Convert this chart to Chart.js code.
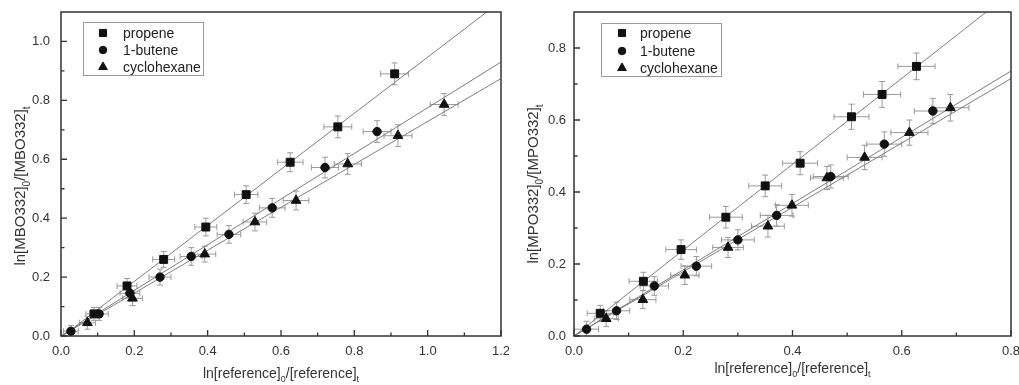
<!DOCTYPE html>
<html>
<head>
<meta charset="utf-8">
<script src="https://cdn.jsdelivr.net/npm/chart.js@4.4.0/dist/chart.umd.min.js"></script>
<style>
    body { margin: 0; background: #fff; width: 1019px; height: 385px; overflow: hidden; position: relative; }
    canvas { position: absolute; top: 0; }
</style>
</head>
<body>
<canvas id="mboChart" width="509" height="385" style="left:0"></canvas>
<canvas id="mpoChart" width="510" height="385" style="left:509px"></canvas>
<script>
// ============================================
// Data (two relative-rate plots)
// ============================================

const seriesLabels = ['propene', '1-butene', 'cyclohexane'];

// Left panel: ln[MBO332]0/[MBO332]t vs ln[reference]0/[reference]t
const mboXTicks = [0, 0.2, 0.4, 0.6, 0.8, 1.0, 1.2];
const mboYTicks = [0, 0.2, 0.4, 0.6, 0.8, 1.0];

const mboPropeneX = [0.09, 0.18, 0.28, 0.395, 0.505, 0.625, 0.755, 0.91];
const mboPropeneY = [0.075, 0.17, 0.26, 0.37, 0.48, 0.59, 0.71, 0.89];
const mboPropeneXErr = [0.022, 0.027, 0.03, 0.03, 0.032, 0.035, 0.038, 0.038];
const mboPropeneYErr = [0.022, 0.025, 0.027, 0.03, 0.03, 0.032, 0.037, 0.037];

const mboButeneX = [0.027, 0.104, 0.188, 0.27, 0.355, 0.458, 0.576, 0.72, 0.862];
const mboButeneY = [0.016, 0.075, 0.145, 0.2, 0.27, 0.345, 0.435, 0.572, 0.694];
const mboButeneXErr = [0.02, 0.025, 0.027, 0.03, 0.03, 0.032, 0.035, 0.037, 0.038];
const mboButeneYErr = [0.02, 0.022, 0.025, 0.027, 0.03, 0.03, 0.032, 0.035, 0.037];

const mboCycloX = [0.072, 0.195, 0.392, 0.529, 0.641, 0.782, 0.919, 1.045];
const mboCycloY = [0.045, 0.128, 0.278, 0.387, 0.46, 0.584, 0.68, 0.786];
const mboCycloXErr = [0.022, 0.027, 0.03, 0.032, 0.035, 0.037, 0.038, 0.038];
const mboCycloYErr = [0.022, 0.025, 0.027, 0.03, 0.032, 0.035, 0.037, 0.037];

// fitted lines, two end points each
const mboPropeneFit = [{ x: 0, y: -0.005 }, { x: 1.2, y: 1.137 }];
const mboButeneFit = [{ x: 0, y: 0 }, { x: 1.2, y: 0.93 }];
const mboCycloFit = [{ x: 0, y: 0 }, { x: 1.2, y: 0.874 }];

// Right panel: ln[MPO332]0/[MPO332]t vs ln[reference]0/[reference]t
const mpoXTicks = [0, 0.2, 0.4, 0.6, 0.8];
const mpoYTicks = [0, 0.2, 0.4, 0.6, 0.8];

const mpoPropeneX = [0.048, 0.127, 0.196, 0.278, 0.35, 0.414, 0.508, 0.564, 0.627];
const mpoPropeneY = [0.063, 0.152, 0.24, 0.33, 0.417, 0.48, 0.609, 0.671, 0.749];
const mpoPropeneXErr = [0.024, 0.026, 0.028, 0.03, 0.03, 0.032, 0.032, 0.034, 0.034];
const mpoPropeneYErr = [0.022, 0.025, 0.027, 0.03, 0.03, 0.032, 0.035, 0.036, 0.037];

const mpoButeneX = [0.023, 0.078, 0.147, 0.224, 0.3, 0.371, 0.47, 0.568, 0.657];
const mpoButeneY = [0.019, 0.07, 0.139, 0.194, 0.267, 0.335, 0.443, 0.533, 0.625];
const mpoButeneXErr = [0.022, 0.024, 0.026, 0.028, 0.03, 0.03, 0.032, 0.032, 0.034];
const mpoButeneYErr = [0.022, 0.024, 0.026, 0.027, 0.028, 0.03, 0.032, 0.034, 0.035];

const mpoCycloX = [0.059, 0.126, 0.203, 0.282, 0.355, 0.399, 0.463, 0.532, 0.614, 0.689];
const mpoCycloY = [0.048, 0.101, 0.169, 0.246, 0.305, 0.363, 0.439, 0.496, 0.565, 0.634];
const mpoCycloXErr = [0.022, 0.024, 0.026, 0.028, 0.03, 0.03, 0.03, 0.032, 0.034, 0.034];
const mpoCycloYErr = [0.022, 0.025, 0.026, 0.028, 0.03, 0.03, 0.032, 0.034, 0.035, 0.037];

const mpoPropeneFit = [{ x: 0, y: 0 }, { x: 0.8, y: 0.954 }];
const mpoButeneFit = [{ x: 0, y: 0 }, { x: 0.8, y: 0.736 }];
const mpoCycloFit = [{ x: 0, y: 0 }, { x: 0.8, y: 0.715 }];

// ============================================
// Styling
// ============================================

const FONT = "'Liberation Sans', Arial, sans-serif";
const textColor = '#333';
const frameColor = '#333';
const markerStyles = ['rect', 'circle', 'triangle'];
const markerRadius = [5.6, 4.2, 5.6];
const fitColor = '#7d7d7d';
const errColor = '#9a9a9a';

/**
 * Error bars (x and y, with caps) drawn under the markers
 */
const errorBarPlugin = {
    id: 'errorBars',
    beforeDatasetsDraw(chart) {
        const { ctx, chartArea, scales: { x, y } } = chart;
        ctx.save();
        ctx.beginPath();
        ctx.rect(chartArea.left, chartArea.top, chartArea.width, chartArea.height);
        ctx.clip();
        ctx.strokeStyle = errColor;
        ctx.lineWidth = 1;
        chart.data.datasets.forEach(ds => {
            if (!ds.xErr) return;
            ds.data.forEach((pt, i) => {
                const px = x.getPixelForValue(pt.x);
                const py = y.getPixelForValue(pt.y);
                const x0 = x.getPixelForValue(pt.x - ds.xErr[i]);
                const x1 = x.getPixelForValue(pt.x + ds.xErr[i]);
                const y0 = y.getPixelForValue(pt.y - ds.yErr[i]);
                const y1 = y.getPixelForValue(pt.y + ds.yErr[i]);
                const cap = 3;
                ctx.beginPath();
                ctx.moveTo(x0, py); ctx.lineTo(x1, py);
                ctx.moveTo(x0, py - cap); ctx.lineTo(x0, py + cap);
                ctx.moveTo(x1, py - cap); ctx.lineTo(x1, py + cap);
                ctx.moveTo(px, y0); ctx.lineTo(px, y1);
                ctx.moveTo(px - cap, y0); ctx.lineTo(px + cap, y0);
                ctx.moveTo(px - cap, y1); ctx.lineTo(px + cap, y1);
                ctx.stroke();
            });
        });
        ctx.restore();
    }
};

/**
 * Draw text made of normal and subscript pieces, centred on (0, 0)
 */
function drawRichText(ctx, parts, size) {
    const subSize = Math.round(size * 0.65);
    const widths = parts.map(p => {
        ctx.font = `${p.sub ? subSize : size}px ${FONT}`;
        return ctx.measureText(p.t).width;
    });
    let cx = -widths.reduce((a, b) => a + b, 0) / 2;
    ctx.textAlign = 'left';
    ctx.textBaseline = 'alphabetic';
    parts.forEach((p, i) => {
        ctx.font = `${p.sub ? subSize : size}px ${FONT}`;
        ctx.fillText(p.t, cx, p.sub ? size * 0.3 : 0);
        cx += widths[i];
    });
}

/**
 * Frame, inward ticks, axis titles and the boxed legend
 */
const decorPlugin = {
    id: 'decor',
    afterDraw(chart, args, opts) {
        const { ctx, chartArea: a, scales: { x, y } } = chart;
        ctx.save();

        // frame
        ctx.strokeStyle = frameColor;
        ctx.lineWidth = 1.5;
        ctx.strokeRect(a.left, a.top, a.width, a.height);

        // inward ticks on bottom and left axes
        ctx.lineWidth = 1.3;
        ctx.beginPath();
        const xt = opts.xTicks;
        xt.forEach((v, i) => {
            const px = x.getPixelForValue(v);
            ctx.moveTo(px, a.bottom); ctx.lineTo(px, a.bottom - 6);
            if (i < xt.length - 1) {
                const mx = x.getPixelForValue((v + xt[i + 1]) / 2);
                ctx.moveTo(mx, a.bottom); ctx.lineTo(mx, a.bottom - 3.5);
            }
        });
        const yt = opts.yTicks;
        yt.forEach((v, i) => {
            const py = y.getPixelForValue(v);
            ctx.moveTo(a.left, py); ctx.lineTo(a.left + 6, py);
            const next = i < yt.length - 1 ? yt[i + 1] : v + (v - yt[i - 1]);
            const my = y.getPixelForValue((v + next) / 2);
            if (my > a.top) { ctx.moveTo(a.left, my); ctx.lineTo(a.left + 3.5, my); }
        });
        ctx.stroke();

        // axis titles
        ctx.fillStyle = textColor;
        ctx.save();
        ctx.translate((a.left + a.right) / 2, opts.xTitleY);
        drawRichText(ctx, opts.xTitle, 14);
        ctx.restore();

        ctx.save();
        ctx.translate(opts.yTitleX, opts.yTitleCenter);
        ctx.rotate(-Math.PI / 2);
        drawRichText(ctx, opts.yTitle, 15);
        ctx.restore();

        // legend box
        const L = opts.legend;
        ctx.strokeStyle = '#9a9a9a';
        ctx.lineWidth = 1;
        ctx.strokeRect(L.left + 0.5, L.top + 0.5, L.width, L.height);
        ctx.font = `14px ${FONT}`;
        ctx.textAlign = 'left';
        ctx.textBaseline = 'middle';
        seriesLabels.forEach((label, i) => {
            const rowY = L.rows[i];
            ctx.fillStyle = '#111';
            ctx.strokeStyle = '#111';
            Chart.helpers.drawPoint(ctx, {
                pointStyle: markerStyles[i],
                radius: markerRadius[i] * 0.9,
                borderWidth: 1,
                rotation: 0
            }, L.markerX, rowY);
            ctx.fillStyle = '#222';
            ctx.fillText(label, L.textX, rowY + 1);
        });

        ctx.restore();
    }
};

function buildPanel(canvasId, p) {
    const datasets = [];
    p.series.forEach((s, i) => {
        datasets.push({
            label: seriesLabels[i],
            data: s.x.map((v, j) => ({ x: v, y: s.y[j] })),
            xErr: s.xErr,
            yErr: s.yErr,
            pointStyle: markerStyles[i],
            pointRadius: markerRadius[i],
            backgroundColor: '#111',
            borderColor: '#111',
            borderWidth: 1,
            showLine: false
        });
    });
    p.fits.forEach(f => {
        datasets.push({
            data: f,
            showLine: true,
            pointRadius: 0,
            borderColor: fitColor,
            borderWidth: 1
        });
    });

    const tickFont = { family: FONT, size: 13 };

    return new Chart(document.getElementById(canvasId), {
        type: 'scatter',
        data: { datasets },
        plugins: [errorBarPlugin, decorPlugin],
        options: {
            responsive: false,
            animation: false,
            devicePixelRatio: 1,
            layout: { padding: { top: 12, right: 8, left: 0, bottom: 0 } },
            plugins: {
                legend: { display: false },
                tooltip: { enabled: false },
                decor: {
                    xTicks: p.xTicks,
                    yTicks: p.yTicks,
                    xTitle: p.xTitle,
                    yTitle: p.yTitle,
                    xTitleY: p.xTitleY,
                    yTitleX: p.yTitleX,
                    yTitleCenter: p.yTitleCenter,
                    legend: p.legend
                }
            },
            scales: {
                x: {
                    type: 'linear',
                    min: p.xTicks[0],
                    max: p.xTicks[p.xTicks.length - 1],
                    grid: { display: false, drawTicks: false },
                    border: { display: false },
                    ticks: {
                        font: tickFont,
                        color: textColor,
                        padding: 8,
                        autoSkip: false,
                        maxRotation: 0,
                        callback: v => v.toFixed(1)
                    },
                    afterBuildTicks: s => { s.ticks = p.xTicks.map(v => ({ value: v })); },
                    afterFit: s => {
                        s.height = 49;
                        s.paddingLeft = 0;
                        s.paddingRight = 0;
                    }
                },
                y: {
                    type: 'linear',
                    min: 0,
                    max: p.yMax,
                    grid: { display: false, drawTicks: false },
                    border: { display: false },
                    ticks: {
                        font: tickFont,
                        color: textColor,
                        padding: p.yLabelPad,
                        autoSkip: false,
                        callback: v => v.toFixed(1)
                    },
                    afterBuildTicks: s => { s.ticks = p.yTicks.map(v => ({ value: v })); },
                    afterFit: s => {
                        s.width = p.yAxisWidth;
                        s.paddingTop = 0;
                        s.paddingBottom = 0;
                    }
                }
            }
        }
    });
}

const xTitleParts = [
    { t: 'ln[reference]' }, { t: '0', sub: true },
    { t: '/[reference]' }, { t: 't', sub: true }
];

buildPanel('mboChart', {
    series: [
        { x: mboPropeneX, y: mboPropeneY, xErr: mboPropeneXErr, yErr: mboPropeneYErr },
        { x: mboButeneX, y: mboButeneY, xErr: mboButeneXErr, yErr: mboButeneYErr },
        { x: mboCycloX, y: mboCycloY, xErr: mboCycloXErr, yErr: mboCycloYErr }
    ],
    fits: [mboPropeneFit, mboButeneFit, mboCycloFit],
    xTicks: mboXTicks,
    yTicks: mboYTicks,
    yMax: 1.1,
    yAxisWidth: 61,
    yLabelPad: 11,
    xTitle: xTitleParts,
    yTitle: [
        { t: 'ln[MBO332]' }, { t: '0', sub: true },
        { t: '/[MBO332]' }, { t: 't', sub: true }
    ],
    xTitleY: 378,
    yTitleX: 25,
    yTitleCenter: 186,
    legend: { left: 83, top: 22, width: 120, height: 53, markerX: 103, textX: 123, rows: [33, 50, 67] }
});

buildPanel('mpoChart', {
    series: [
        { x: mpoPropeneX, y: mpoPropeneY, xErr: mpoPropeneXErr, yErr: mpoPropeneYErr },
        { x: mpoButeneX, y: mpoButeneY, xErr: mpoButeneXErr, yErr: mpoButeneYErr },
        { x: mpoCycloX, y: mpoCycloY, xErr: mpoCycloXErr, yErr: mpoCycloYErr }
    ],
    fits: [mpoPropeneFit, mpoButeneFit, mpoCycloFit],
    xTicks: mpoXTicks,
    yTicks: mpoYTicks,
    yMax: 0.9,
    yAxisWidth: 65,
    yLabelPad: 8,
    xTitle: xTitleParts,
    yTitle: [
        { t: 'ln[MPO332]' }, { t: '0', sub: true },
        { t: '/[MPO332]' }, { t: 't', sub: true }
    ],
    xTitleY: 373,
    yTitleX: 29,
    yTitleCenter: 184,
    legend: { left: 92, top: 23, width: 120, height: 53, markerX: 113, textX: 131, rows: [33, 51, 68] }
});
</script>
</body>
</html>
